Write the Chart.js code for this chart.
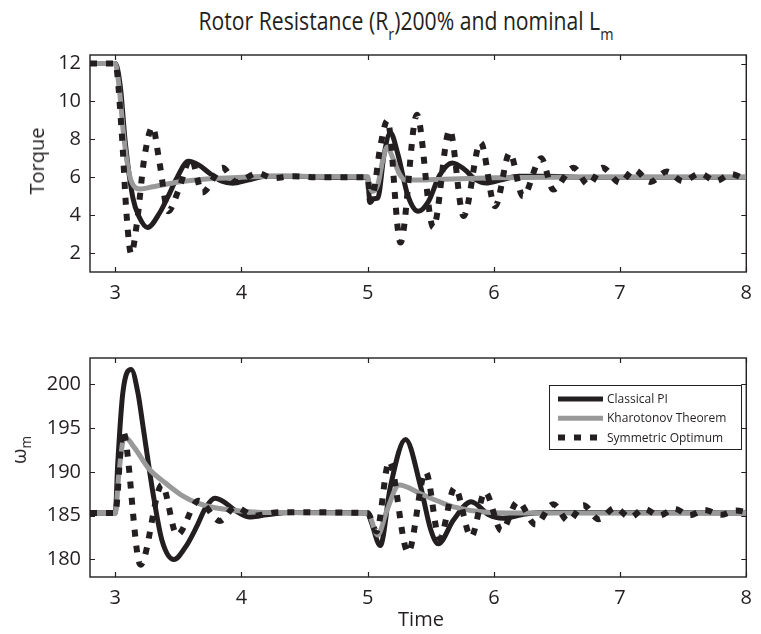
<!DOCTYPE html>
<html><head><meta charset="utf-8">
<script src="https://cdn.jsdelivr.net/npm/chart.js@4.4.1/dist/chart.umd.min.js"></script>
<style>
html,body{margin:0;padding:0;background:#fff}
body{width:761px;height:634px;overflow:hidden;position:relative;font-family:"Open Sans",sans-serif;color:#231f20}
.pane{position:absolute;left:0;width:761px;height:317px}
.lbl{position:absolute;white-space:nowrap;line-height:1;font-size:20px}
#title{position:absolute;left:406px;top:21px;font-size:25px;line-height:1;white-space:nowrap;transform-origin:center center}
sub{font-size:68%;vertical-align:-0.38em;line-height:0}
#title sub{vertical-align:-0.55em}
</style></head>
<body>
<div id="title">Rotor Resistance (R<sub>r</sub>)200% and nominal L<sub>m</sub></div>
<div class="pane" style="top:0"><canvas id="cTop" width="761" height="317"></canvas></div>
<div class="pane" style="top:317px"><canvas id="cBot" width="761" height="317"></canvas></div>
<div class="lbl" id="yl1" style="left:37px;top:161px;transform:translate(-50%,-50%) rotate(-90deg)">Torque</div>
<div class="lbl" id="yl2" style="left:19px;top:450px;transform:translate(-50%,-50%) rotate(-90deg)">ω<sub>m</sub></div>
<div class="lbl" id="xl" style="left:421px;top:619px;transform:translate(-50%,-50%)">Time</div>
<script>
// ---------------- data ----------------
const seriesNames = ['Classical PI', 'Kharotonov Theorem', 'Symmetric Optimum'];
const xTicks = [3, 4, 5, 6, 7, 8];
const torqueTicks = [2, 4, 6, 8, 10, 12];
const speedTicks = [180, 185, 190, 195, 200];

// Torque – Classical PI
const torqueTimePI = [2.8, 3.0, 3.04, 3.08, 3.14, 3.19, 3.256, 3.35, 3.42, 3.48, 3.58, 3.66, 3.75, 3.84, 3.93, 4.05, 4.2, 4.4, 4.7, 5.0, 5.015, 5.08, 5.13, 5.18, 5.24, 5.32, 5.40, 5.48, 5.57, 5.67, 5.77, 5.85, 5.94, 6.05, 6.2, 6.4, 6.7, 8.0];
const torquePI     = [12, 12, 10.8, 7.8, 4.9, 3.9, 3.35, 4.1, 5.0, 5.85, 6.84, 6.65, 6.2, 5.8, 5.68, 5.85, 6.05, 6.05, 6.0, 6.0, 4.85, 4.9, 7.2, 8.35, 7.2, 5.0, 4.2, 4.7, 6.1, 6.75, 6.4, 5.9, 5.7, 5.85, 6.05, 6.05, 6.0, 6.0];
// Torque – Kharotonov Theorem
const torqueTimeKT = [2.8, 3.0, 3.03, 3.07, 3.11, 3.16, 3.2, 3.3, 3.5, 3.7, 4.0, 4.3, 5.0, 5.012, 5.04, 5.08, 5.12, 5.155, 5.2, 5.25, 5.3, 5.4, 5.6, 6.0, 6.5, 8.0];
const torqueKT     = [12, 12, 10.8, 8.0, 6.2, 5.45, 5.38, 5.5, 5.75, 5.9, 6.0, 6.05, 6.02, 5.6, 5.25, 5.6, 6.9, 7.6, 7.0, 6.2, 5.85, 5.85, 5.9, 5.97, 6.0, 6.0];
// Torque – Symmetric Optimum
const torqueTimeSO = [2.8, 3.0, 3.05, 3.09, 3.126, 3.17, 3.23, 3.296, 3.35, 3.42, 3.5, 3.6, 3.69, 3.85, 3.96, 4.13, 4.25, 4.4, 4.6, 5.0, 5.02, 5.05, 5.1, 5.157, 5.26, 5.39, 5.52, 5.65, 5.76, 5.895, 6.01, 6.126, 6.23, 6.375, 6.47, 6.63, 6.75, 6.86, 7.0, 7.11, 7.24, 7.37, 7.5, 7.63, 7.76, 7.88, 8.0];
const torqueSO     = [12, 12, 8.5, 4.0, 1.95, 3.5, 7.0, 8.65, 6.8, 4.2, 5.3, 7.0, 5.2, 6.5, 5.75, 6.22, 5.95, 6.05, 6.0, 6.0, 4.7, 5.3, 7.6, 9.0, 2.55, 9.3, 3.35, 8.5, 3.95, 7.83, 4.47, 7.28, 5.0, 7.0, 5.35, 6.5, 5.6, 6.5, 5.7, 6.4, 5.75, 6.3, 5.78, 6.2, 5.8, 6.17, 5.85];

// Speed – Classical PI
const speedTimePI = [2.8, 3.0, 3.02, 3.06, 3.126, 3.18, 3.22, 3.30, 3.37, 3.466, 3.56, 3.64, 3.72, 3.79, 3.87, 3.95, 4.06, 4.2, 4.4, 5.0, 5.03, 5.1, 5.18, 5.30, 5.42, 5.50, 5.56, 5.68, 5.82, 5.96, 6.07, 6.25, 6.5, 8.0];
const speedPI     = [185.3, 185.3, 191.0, 199.0, 201.7, 199.0, 195.2, 187.5, 182.2, 180.0, 181.5, 183.6, 186.0, 187.0, 186.5, 185.6, 184.85, 185.1, 185.35, 185.3, 184.2, 181.6, 188.3, 193.7, 188.3, 183.4, 181.8, 184.5, 186.6, 185.1, 184.7, 185.2, 185.35, 185.3];
// Speed – Kharotonov Theorem
const speedTimeKT = [2.8, 3.0, 3.03, 3.073, 3.15, 3.27, 3.40, 3.53, 3.66, 3.79, 3.97, 4.2, 5.0, 5.08, 5.15, 5.25, 5.42, 5.55, 5.68, 5.94, 6.3, 8.0];
const speedKT     = [185.3, 185.3, 190.0, 194.0, 192.8, 190.3, 188.7, 187.3, 186.4, 185.9, 185.55, 185.35, 185.3, 182.8, 185.5, 188.5, 187.5, 186.7, 186.0, 185.4, 185.3, 185.3];
// Speed – Symmetric Optimum
const speedTimeSO = [2.8, 3.0, 3.06, 3.20, 3.37, 3.49, 3.66, 3.83, 3.95, 4.1, 4.3, 5.0, 5.07, 5.17, 5.32, 5.46, 5.57, 5.69, 5.82, 5.93, 6.06, 6.19, 6.33, 6.47, 6.59, 6.71, 6.83, 6.96, 7.08, 7.19, 7.31, 7.43, 7.55, 7.67, 7.80, 7.92, 8.0];
const speedSO     = [185.3, 185.3, 194.7, 179.4, 188.5, 182.8, 186.7, 184.4, 186.0, 185.0, 185.4, 185.3, 183.2, 191.2, 180.8, 190.0, 182.4, 188.2, 182.6, 187.7, 183.3, 186.6, 184.0, 186.3, 184.4, 186.2, 184.6, 185.9, 184.8, 185.8, 185.0, 185.8, 185.05, 185.65, 185.1, 185.6, 185.4];

// ---------------- styling / chart construction ----------------
const INK = '#231f20';
const GREY = '#999999';
const FONT = '"Open Sans", sans-serif';
const pts = (ts, vs) => ts.map((t, i) => ({x: t, y: vs[i]}));

function makeDatasets(tPI, vPI, tKT, vKT, tSO, vSO) {
  const common = {pointRadius: 0, fill: false, cubicInterpolationMode: 'monotone', borderWidth: 5};
  return [
    Object.assign({label: seriesNames[0], data: pts(tPI, vPI), borderColor: INK, order: 3}, common),
    Object.assign({label: seriesNames[1], data: pts(tKT, vKT), borderColor: GREY, order: 2}, common),
    Object.assign({label: seriesNames[2], data: pts(tSO, vSO), borderColor: INK, order: 1, borderDash: [7, 9], borderCapStyle: 'butt'}, common, {borderWidth: 6})
  ];
}

const frame = {
  id: 'frame',
  beforeDatasetsDraw(chart) {
    const {ctx, chartArea: a, scales} = chart;
    ctx.save();
    ctx.strokeStyle = INK;
    ctx.lineWidth = 1.4;
    ctx.strokeRect(a.left, a.top, a.right - a.left, a.bottom - a.top);
    ctx.lineWidth = 1.2;
    const L = 5;
    ctx.beginPath();
    scales.x.ticks.forEach(t => {
      const px = Math.round(scales.x.getPixelForValue(t.value)) + 0.5;
      ctx.moveTo(px, a.bottom); ctx.lineTo(px, a.bottom - L);
      ctx.moveTo(px, a.top); ctx.lineTo(px, a.top + L);
    });
    scales.y.ticks.forEach(t => {
      const py = Math.round(scales.y.getPixelForValue(t.value)) + 0.5;
      ctx.moveTo(a.left, py); ctx.lineTo(a.left + L, py);
      ctx.moveTo(a.right, py); ctx.lineTo(a.right - L, py);
    });
    ctx.stroke();
    ctx.restore();
  }
};

const boxLegend = {
  id: 'boxLegend',
  afterDatasetsDraw(chart, args, opts) {
    if (!opts.show) return;
    const {ctx} = chart;
    const x0 = 549.5, y0 = 68.5, w = 192, h = 64;
    ctx.save();
    ctx.fillStyle = '#fff';
    ctx.fillRect(x0, y0, w, h);
    ctx.strokeStyle = INK;
    ctx.lineWidth = 1;
    ctx.strokeRect(x0, y0, w, h);
    ctx.font = '12px ' + FONT;
    ctx.textBaseline = 'middle';
    ctx.textAlign = 'left';
    chart.data.datasets.forEach((ds, i) => {
      const y = 82 + i * 19.3;
      ctx.beginPath();
      ctx.strokeStyle = ds.borderColor;
      ctx.lineWidth = ds.borderWidth;
      ctx.setLineDash(ds.borderDash || []);
      ctx.lineCap = 'butt';
      ctx.moveTo(558, y); ctx.lineTo(603, y);
      ctx.stroke();
      ctx.setLineDash([]);
      ctx.fillStyle = INK;
      ctx.fillText(ds.label, 607, y + 0.5);
    });
    ctx.restore();
  }
};

function makeChart(id, datasets, yMin, yMax, yTickVals, areaTop, areaBottom, showLegend) {
  return new Chart(document.getElementById(id), {
    type: 'line',
    data: {datasets},
    options: {
      responsive: false,
      animation: false,
      events: [],
      layout: {padding: {top: areaTop, right: 9, left: 0, bottom: 0}},
      plugins: {legend: {display: false}, tooltip: {enabled: false}, boxLegend: {show: showLegend}},
      scales: {
        x: {
          type: 'linear', min: 2.8, max: 8,
          grid: {display: false, drawTicks: false},
          border: {display: false},
          afterBuildTicks: s => { s.ticks = xTicks.map(v => ({value: v})); },
          afterFit: s => { s.height = 317 - areaBottom; },
          ticks: {color: INK, font: {family: FONT, size: 20}, padding: 9, maxRotation: 0, autoSkip: false}
        },
        y: {
          type: 'linear', min: yMin, max: yMax,
          grid: {display: false, drawTicks: false},
          border: {display: false},
          afterBuildTicks: s => { s.ticks = yTickVals.map(v => ({value: v})); },
          afterFit: s => { s.width = 90; },
          ticks: {color: INK, font: {family: FONT, size: 20}, padding: 9, autoSkip: false}
        }
      }
    },
    plugins: [frame, boxLegend]
  });
}

makeChart('cTop', makeDatasets(torqueTimePI, torquePI, torqueTimeKT, torqueKT, torqueTimeSO, torqueSO),
  1, 12.45, torqueTicks, 55, 272, false);
makeChart('cBot', makeDatasets(speedTimePI, speedPI, speedTimeKT, speedKT, speedTimeSO, speedSO),
  178, 203, speedTicks, 41, 260, true);

// condensed title, fitted to the reference width
const t = document.getElementById('title');
const w = t.getBoundingClientRect().width;
t.style.transform = 'translate(-50%,-50%) scaleX(' + (415 / w) + ')';
</script>
</body></html>
